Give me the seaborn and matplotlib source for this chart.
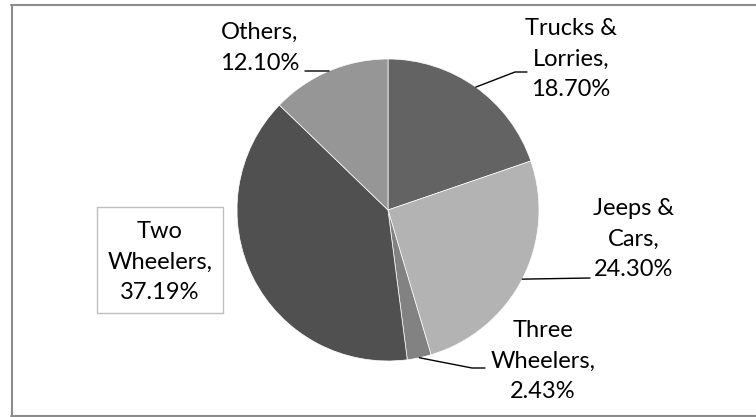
import numpy as np
import matplotlib
matplotlib.use("Agg")
import matplotlib.pyplot as plt
from matplotlib.patches import Rectangle
from matplotlib.lines import Line2D
import seaborn as sns

# ---- data ----
categories = ["Trucks & Lorries", "Jeeps & Cars", "Three Wheelers", "Two Wheelers", "Others"]
label_names = ["Trucks &\nLorries,", "Jeeps &\nCars,", "Three\nWheelers,", "Two\nWheelers,", "Others,"]
values = [18.70, 24.30, 2.43, 37.19, 12.10]
colors = ["#636363", "#b3b3b3", "#828282", "#505050", "#969696"]

sns.set_theme(style="white")
plt.rcParams["font.family"] = ["Lato", "DejaVu Sans"]

W, H = 756, 417
fig = plt.figure(figsize=(W / 100, H / 100), dpi=100)
fig.patch.set_facecolor("white")

# pie geometry in pixels
cx, cy, R = 388, 210, 151
ax = fig.add_axes([(cx - R) / W, (H - cy - R) / H, 2 * R / W, 2 * R / H])
wedges, _ = ax.pie(values, colors=colors, startangle=90, counterclock=False,
                   wedgeprops=dict(edgecolor="white", linewidth=0.5))
ax.set_xlim(-1, 1)
ax.set_ylim(-1, 1)
ax.set_aspect("equal")
ax.axis("off")

def d(px, py):
    return ((px - cx) / R, (cy - py) / R)

# label layout (pixel positions of label centres)
label_pos = [d(571, 59), d(634, 239), d(543, 361), d(160, 262), d(260, 48)]
# leader line waypoints after the wedge edge point (None: no leader)
leaders = [[d(515, 72), d(527, 72)],
           [d(590, 278)],
           [d(472, 368), d(485, 368)],
           None,
           [d(305, 71)]]

fs = 17
for w, name, v, pos, lead in zip(wedges, label_names, values, label_pos, leaders):
    ax.text(pos[0], pos[1], f"{name}\n{v:.2f}%", ha="center", va="center",
            multialignment="center", fontsize=fs, color="black",
            linespacing=1.58, clip_on=False, zorder=5)
    if lead is not None:
        mid = np.deg2rad((w.theta1 + w.theta2) / 2)
        xs = [np.cos(mid)] + [p[0] for p in lead]
        ys = [np.sin(mid)] + [p[1] for p in lead]
        ax.add_line(Line2D(xs, ys, color="black", lw=1.0, clip_on=False))

# boxed label background for Two Wheelers
box = Rectangle((97 / W, (H - 313) / H), 126 / W, 106 / H, transform=fig.transFigure,
                facecolor="white", edgecolor="#bfbfbf", lw=1.0, zorder=-1)
fig.add_artist(box)

# chart area border (top, left, bottom)
bc = "#8c8c8c"
fig.add_artist(Line2D([11 / W, 1.0], [1 - 4.5 / H, 1 - 4.5 / H], color=bc, lw=1.5, transform=fig.transFigure))
fig.add_artist(Line2D([11.5 / W, 11.5 / W], [0.5 / H, 1 - 4.5 / H], color=bc, lw=1.5, transform=fig.transFigure))
fig.add_artist(Line2D([11 / W, 1.0], [1.2 / H, 1.2 / H], color=bc, lw=1.5, transform=fig.transFigure))

fig.savefig("out.png", dpi=100)
